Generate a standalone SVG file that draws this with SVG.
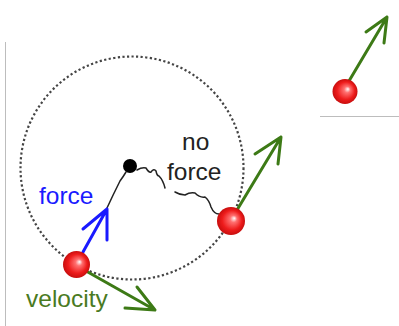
<svg xmlns="http://www.w3.org/2000/svg" width="399" height="326" viewBox="0 0 399 326">
<defs>
<radialGradient id="ballg" cx="0.5" cy="0.5" r="0.5" fx="0.62" fy="0.4">
<stop offset="0" stop-color="#ffffff"/>
<stop offset="0.25" stop-color="#ff7070"/>
<stop offset="0.7" stop-color="#ee1c1c"/>
<stop offset="1" stop-color="#c80e0e"/>
</radialGradient>
<style>
.frame{stroke:#bdbdbd;stroke-width:1;fill:none}
.orbit{fill:none;stroke:#444;stroke-width:2.2;stroke-dasharray:2.2 2.4}
.ball{fill:url(#ballg)}
.green{fill:none;stroke:#3d7a16;stroke-width:3;stroke-linecap:round;stroke-linejoin:round}
.blue{fill:none;stroke:#1a1aff;stroke-width:3;stroke-linecap:round;stroke-linejoin:round}
.string{fill:none;stroke:#222;stroke-width:1.5;stroke-linecap:round;stroke-linejoin:round}
.lbl{font-family:"Liberation Sans",Arial,sans-serif;font-size:24.5px}
</style>
</defs>
<rect width="399" height="326" fill="#ffffff"/>
<line class="frame" x1="5.5" y1="42" x2="5.5" y2="326"/>
<line class="frame" x1="320" y1="116.5" x2="399" y2="116.5"/>
<circle class="orbit" cx="132" cy="168" r="111.5"/>
<g id="connectors">
<path class="string" d="M126,172 Q123,177 120,181 Q113,195 107,208"/>
<path class="string" d="M137,170 Q142,167 146,168 Q149,173 151,172 Q154,168 156,171 Q157,176 159,176 Q163,180 165,188"/>
<path class="string" d="M175,192 Q180,195 185,195 Q190,192 195,193 Q200,198 205,197 Q209,200 211,207 Q214,214 219,214"/>
<path class="blue" d="M83,252 L107,209 M83,229 L107,209 L107,240"/>
<path class="green" d="M86,271 L155,310 M125,308 L155,310 L137,287"/>
<path class="green" d="M237,210 L281,137 M255,154 L281,137 L278,164"/>
<path class="green" d="M349,81 L387,17 M366,32 L387,17 L384,43"/>
</g>
<g id="pivot"><circle cx="130" cy="166" r="7" fill="#000"/></g>
<g id="ball-left"><circle class="ball" cx="76.5" cy="264.5" r="13.5"/></g>
<g id="ball-right"><circle class="ball" cx="231" cy="221" r="14"/></g>
<g id="ball-free"><circle class="ball" cx="345" cy="91.5" r="12.5"/></g>
<g id="label-force"><text class="lbl" x="39" y="204" fill="#1a1aff">force</text></g>
<g id="label-noforce"><text class="lbl" x="182" y="150" fill="#222">no</text><text class="lbl" x="167" y="180" fill="#222">force</text></g>
<g id="label-velocity"><text class="lbl" x="26" y="307" fill="#4a7a22">velocity</text></g>
</svg>
